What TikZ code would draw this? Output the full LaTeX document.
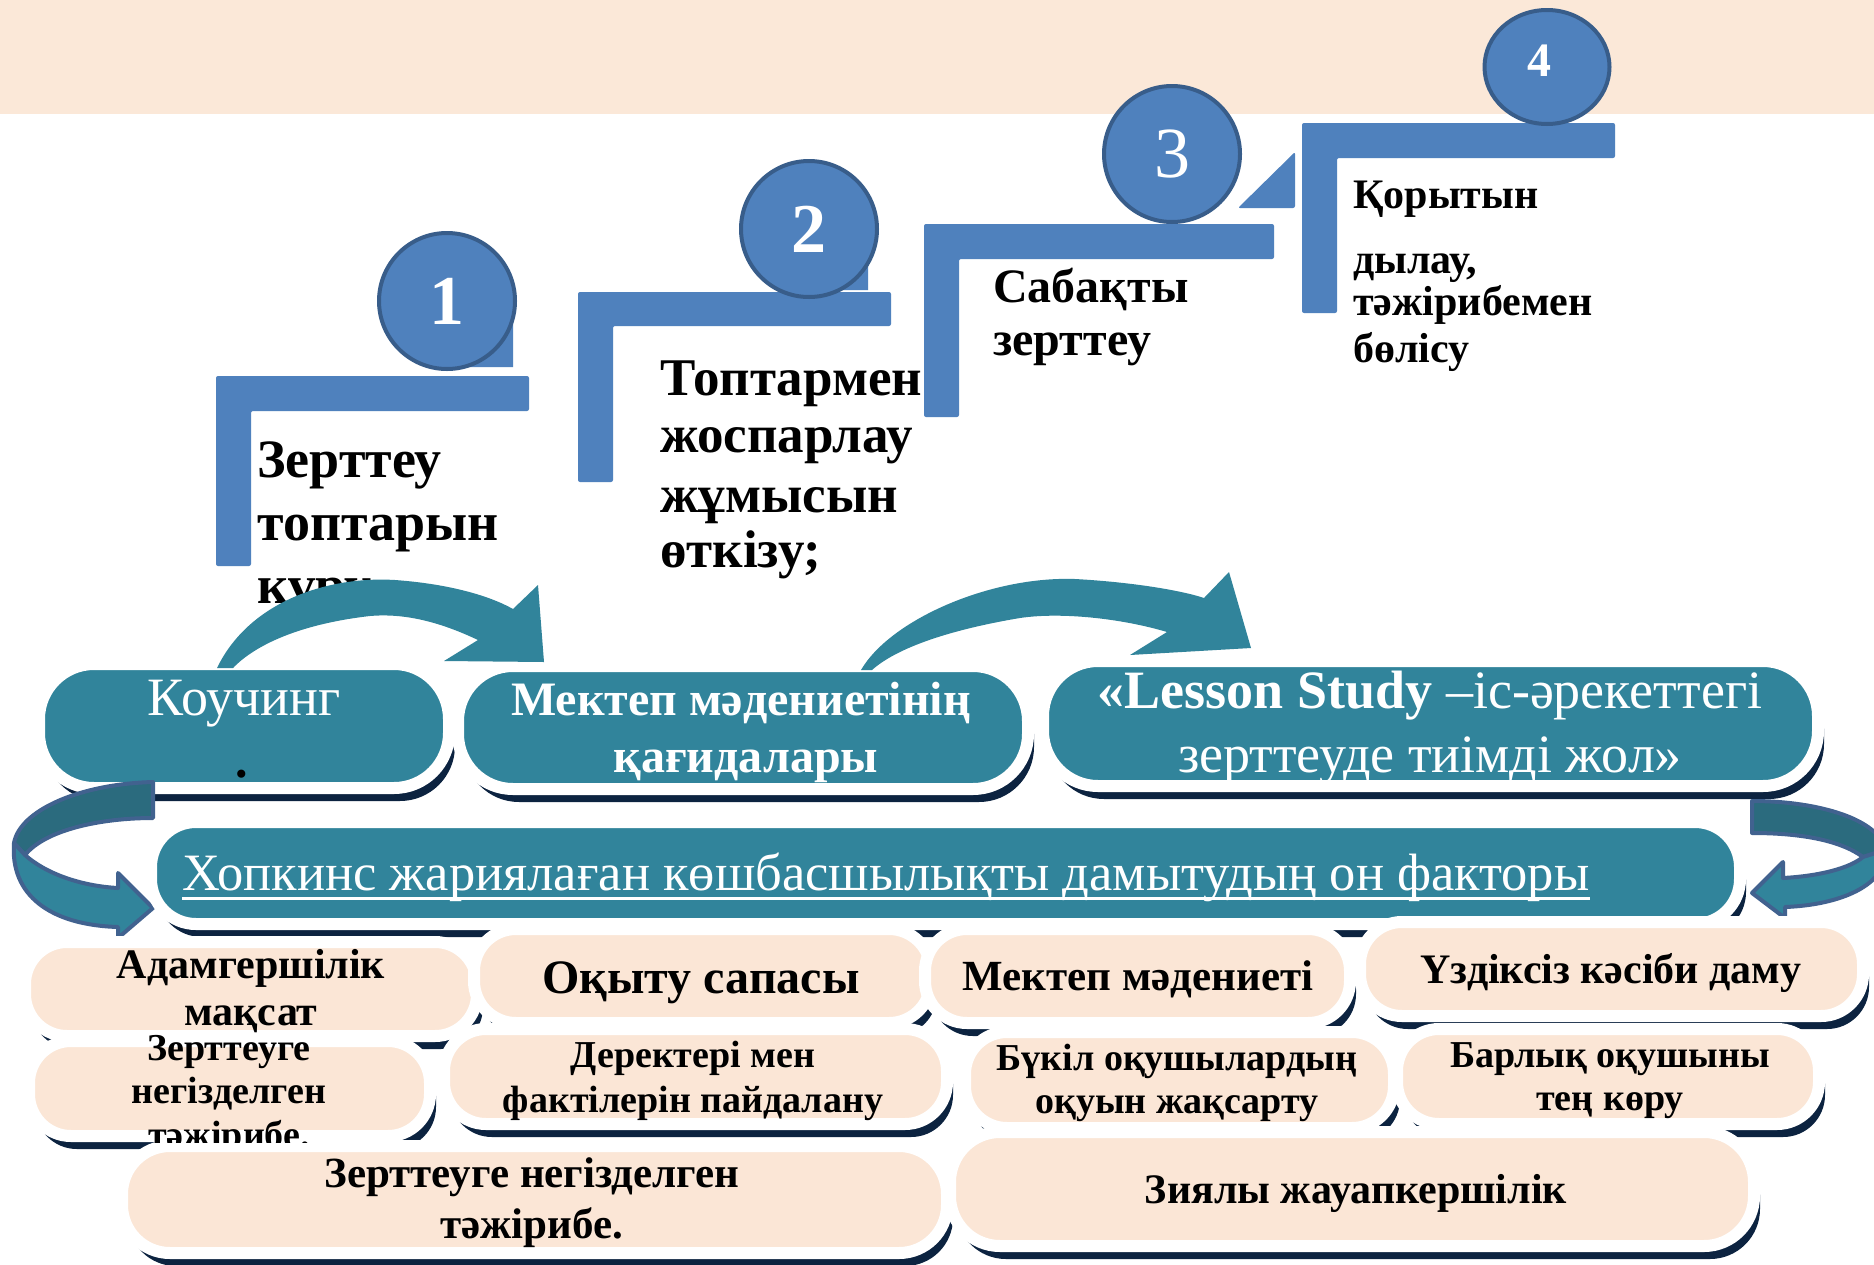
\documentclass[tikz,border=0pt]{standalone}
\usepackage{fontspec}
\setmainfont{Liberation Serif}
\usetikzlibrary{shadows,shapes.geometric}
\definecolor{bandc}{HTML}{FBE8D8}
\definecolor{stepblue}{HTML}{4F81BD}
\definecolor{circb}{HTML}{385D8A}
\definecolor{tealc}{HTML}{31849B}
\definecolor{tealdark}{HTML}{2B6B7E}
\definecolor{arrowline}{HTML}{41628F}
\definecolor{shadowc}{HTML}{0C2340}
\definecolor{peach}{HTML}{FBE6D6}
\tikzset{
  fsz/.style={font=\fontsize{#1}{#1}\selectfont},
  fszb/.style={font=\bfseries\fontsize{#1}{#1}\selectfont},
  numcirc/.style={circle, fill=stepblue, draw=circb, line width=4pt, minimum size=136pt, inner sep=0pt, text=white},
  shbox/.style={rectangle, draw=white, line width=12pt, drop shadow={fill=shadowc, opacity=1, shadow xshift=6pt, shadow yshift=-13pt}},
  tbox/.style={shbox, fill=tealc},
  pbox/.style={shbox, fill=peach},
  tl/.style={anchor=base, inner sep=0pt},
  wl/.style={tl, text=white},
  sl/.style={anchor=base west, inner sep=0pt},
  uarrowA/.style={fill=tealdark, draw=arrowline, line width=4pt, line join=round},
  uarrowB/.style={fill=tealc, draw=arrowline, line width=4pt, line join=round}
}
\begin{document}
\begin{tikzpicture}[x=1pt,y=-1pt]
\useasboundingbox (0,0) rectangle (1874,1264);
\fill[white] (0,0) rectangle (1874,1264);
\fill[bandc] (0,0) rectangle (1874,114);

% ---- steps ----
\fill[stepblue] (456,367) -- (513,310) -- (513,367) -- cycle;
\fill[stepblue] (811,290) -- (868,233) -- (868,290) -- cycle;
\fill[stepblue, rounded corners=2pt] (1238,208) -- (1295,152) -- (1295,208) -- cycle;
\fill[stepblue, rounded corners=2pt] (216,376) -- (529,376) -- (529,411) -- (251,411) -- (251,566) -- (216,566) -- cycle;
\fill[stepblue, rounded corners=2pt] (578,292) -- (891,292) -- (891,326) -- (613,326) -- (613,482) -- (578,482) -- cycle;
\fill[stepblue, rounded corners=2pt] (924,224) -- (1274,224) -- (1274,259) -- (959,259) -- (959,417) -- (924,417) -- cycle;
\fill[stepblue, rounded corners=2pt] (1302,123) -- (1615,123) -- (1615,158) -- (1337,158) -- (1337,313) -- (1302,313) -- cycle;
\node[numcirc, fszb=70] (c1) at (447,301) {1};
\node[numcirc, fszb=70] (c2) at (809,229) {2};
\node[numcirc, fsz=72] (c3) at (1172,154) {3};
\node[ellipse, fill=stepblue, draw=circb, line width=4pt, minimum width=125pt, minimum height=114pt, inner sep=0pt] (c4) at (1547,67) {};
\node[text=white, fszb=48, inner sep=0pt] (n4) at (1539,61) {4};

\node[sl, fszb=54] (s1a) at (257,477) {Зерттеу};
\node[sl, fszb=54] (s1b) at (257,540) {топтарын};
\node[sl, fszb=54] (s1c) at (257,603) {құру};
\node[sl, fszb=53] (s2a) at (660,395) {Топтармен};
\node[sl, fszb=53] (s2b) at (660,452) {жоспарлау};
\node[sl, fszb=53] (s2c) at (660,512) {жұмысын};
\node[sl, fszb=53] (s2d) at (660,567) {өткізу;};
\node[sl, fszb=48] (s3a) at (993,302) {Сабақты};
\node[sl, fszb=48] (s3b) at (993,355) {зерттеу};
\node[sl, fszb=42] (s4a) at (1353,208) {Қорытын};
\node[sl, fszb=42] (s4b) at (1353,273) {дылау,};
\node[sl, fszb=42] (s4c) at (1353,315) {тәжірибемен};
\node[sl, fszb=42] (s4d) at (1353,362) {бөлісу};

% ---- teal boxes ----
\node[tbox, rounded corners=55pt, minimum width=410pt, minimum height=124pt] (kouch) at (244,726) {};
\node[tbox, rounded corners=55pt, minimum width=570pt, minimum height=123pt] (mekt) at (743,727.5) {};
\node[tbox, rounded corners=55pt, minimum width=775pt, minimum height=125pt] (less) at (1430.5,723.5) {};
\node[wl, fsz=54] (kouchT) at (244,715) {Коучинг};
\node[tl, fszb=50] (kouchD) at (242,777) {.};
\node[wl, fszb=48] (mektA) at (741,715) {Мектеп мәдениетінің};
\node[wl, fszb=48] (mektB) at (746,772) {қағидалары};
\node[wl, fsz=54] (lessA) at (1430,708) {\textbf{«Lesson Study} –іс-әрекеттегі};
\node[wl, fsz=54] (lessB) at (1430,772) {зерттеуде тиімді жол»};

% ---- curved arrows ----
\fill[tealc] (217,668) .. controls (250,600) and (330,576) .. (395,580) .. controls (450,584) and (490,596) .. (513,609) -- (538,585) -- (544,662) -- (444,661) -- (478,640) .. controls (440,622) and (405,613) .. (370,616) .. controls (300,624) and (255,645) .. (233,668) -- cycle;
\fill[tealc] (861,670) .. controls (890,620) and (990,576) .. (1075,579) .. controls (1130,582) and (1180,590) .. (1204,598) -- (1229,572) -- (1251,648) -- (1130,655) -- (1167,632) .. controls (1120,618) and (1060,612) .. (1020,618) .. controls (960,628) and (900,645) .. (872,670) -- cycle;

% ---- U arrows ----
\filldraw[uarrowA] (153,782) .. controls (80,784) and (20,810) .. (14,843) -- (25,855) .. controls (45,830) and (100,818) .. (153,818) -- cycle;
\filldraw[uarrowB] (14,843) .. controls (10,895) and (50,925) .. (118,927) -- (118,938) -- (153,908) -- (118,873) -- (118,888) .. controls (80,886) and (45,873) .. (25,855) -- cycle;
\filldraw[uarrowA] (1752,801) .. controls (1820,801) and (1880,820) .. (1885,850) -- (1863,857) .. controls (1840,840) and (1800,833) .. (1752,833) -- cycle;
\filldraw[uarrowB] (1885,850) .. controls (1888,885) and (1840,905) .. (1785,907) -- (1785,918) -- (1752,893) -- (1783,862) -- (1783,878) .. controls (1820,876) and (1850,868) .. (1863,857) -- cycle;

% ---- bar ----
\node[tbox, rounded corners=45pt, minimum width=1589pt, minimum height=102pt] (bar) at (945.5,873) {};
\node[wl, fsz=52.5] (barT) at (886,890) {Хопкинс жариялаған көшбасшылықты дамытудың он факторы};
\draw[white, line width=3pt] ([yshift=-8pt]barT.base west) -- ([yshift=-8pt]barT.base east);

% ---- peach pills ----
\node[pbox, rounded corners=42pt, minimum width=452pt, minimum height=94pt] (adam) at (251,989) {};
\node[pbox, rounded corners=42pt, minimum width=457pt, minimum height=94pt] (oqyt) at (702.5,976) {};
\node[pbox, rounded corners=42pt, minimum width=425pt, minimum height=94pt] (mekm) at (1137.5,976) {};
\node[pbox, rounded corners=42pt, minimum width=503pt, minimum height=94pt] (uzdk) at (1611.5,969) {};
\node[pbox, rounded corners=42pt, minimum width=401pt, minimum height=95pt] (zrt1) at (229.5,1088.5) {};
\node[pbox, rounded corners=42pt, minimum width=503pt, minimum height=95pt] (derk) at (695.5,1076.5) {};
\node[pbox, rounded corners=42pt, minimum width=429pt, minimum height=96pt] (bukl) at (1179.5,1080) {};
\node[pbox, rounded corners=42pt, minimum width=422pt, minimum height=95pt] (barl) at (1608,1076.5) {};
\node[pbox, rounded corners=48pt, minimum width=825pt, minimum height=107pt] (zrt2) at (534.5,1199.5) {};
\node[pbox, rounded corners=50pt, minimum width=804pt, minimum height=114pt] (ziya) at (1352,1189) {};

\node[tl, fszb=42] (adamA) at (251,978) {Адамгершілік};
\node[tl, fszb=42] (adamB) at (251,1025) {мақсат};
\node[tl, fszb=48] (oqytT) at (701,993) {Оқыту сапасы};
\node[tl, fszb=43] (mekmT) at (1138,990) {Мектеп мәдениеті};
\node[tl, fszb=42] (uzdkT) at (1611,983) {Үздіксіз кәсіби даму};
\node[tl, fszb=38] (zrt1A) at (229,1060) {Зерттеуге};
\node[tl, fszb=38] (zrt1B) at (229,1103) {негізделген};
\begin{scope}
\clip (0,1000) rectangle (600,1142);
\node[tl, fszb=38] (zrt1C) at (229,1147) {тәжірибе.};
\end{scope}
\node[tl, fszb=38] (derkA) at (693,1067) {Деректері мен};
\node[tl, fszb=38] (derkB) at (693,1112) {фактілерін пайдалану};
\node[tl, fszb=38] (buklA) at (1177,1070) {Бүкіл оқушылардың};
\node[tl, fszb=38] (buklB) at (1177,1113) {оқуын жақсарту};
\node[tl, fszb=38] (barlA) at (1610,1067) {Барлық оқушыны};
\node[tl, fszb=38] (barlB) at (1610,1110) {тең көру};
\node[tl, fszb=43] (zrt2A) at (532,1187) {Зерттеуге негізделген};
\node[tl, fszb=43] (zrt2B) at (532,1238) {тәжірибе.};
\node[tl, fszb=42] (ziyaT) at (1356,1203) {Зиялы жауапкершілік};
\end{tikzpicture}
\end{document}
